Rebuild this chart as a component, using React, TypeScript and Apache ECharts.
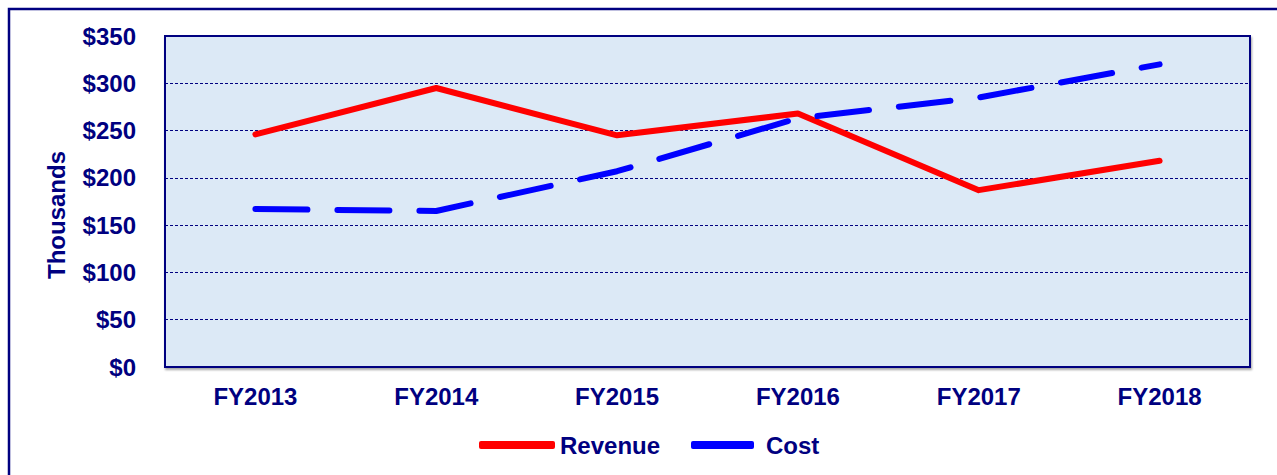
import React, { useEffect, useRef } from "react";
import * as echarts from "echarts";

const categories = ["FY2013", "FY2014", "FY2015", "FY2016", "FY2017", "FY2018"];
const revenue = [246, 295, 245, 268, 187, 218];
const cost = [167, 165, 207, 263, 285, 320];
const yTicks = [0, 50, 100, 150, 200, 250, 300, 350];
const yAxisTitle = "Thousands";

const NAVY = "#000080";
const FONT = "'Liberation Sans', Arial, sans-serif";

export default function App() {
  const ref = useRef<HTMLDivElement>(null);
  useEffect(() => {
    document.body.style.margin = "0";
    const chart = echarts.init(ref.current!, null, { renderer: "svg" });
    chart.setOption({
      animation: false,
      backgroundColor: "#ffffff",
      graphic: [
        {
          type: "rect",
          shape: { x: 9, y: 9, width: 1290, height: 500 },
          style: { fill: "none", stroke: NAVY, lineWidth: 2.5 },
          silent: true,
          z: -1,
        },
        {
          type: "text",
          x: 56,
          y: 215,
          rotation: Math.PI / 2,
          style: {
            text: yAxisTitle,
            fill: NAVY,
            font: "bold 24px " + FONT,
            align: "center",
            verticalAlign: "middle",
          },
          silent: true,
        },
      ],
      grid: {
        left: 165,
        top: 36,
        right: 27,
        bottom: 108,
        show: true,
        backgroundColor: "#dce9f6",
        borderColor: NAVY,
        borderWidth: 2,
        shadowColor: "rgba(0,0,0,0.35)",
        shadowOffsetX: 1,
        shadowOffsetY: 2,
        shadowBlur: 2,
      },
      legend: [
        {
          data: ["Revenue"],
          left: 474,
          top: 428,
          itemWidth: 76,
          itemHeight: 8,
          icon: "roundRect",
          itemGap: 5,
          textStyle: { color: NAVY, fontWeight: "bold", fontSize: 24, fontFamily: FONT },
        },
        {
          data: ["Cost"],
          left: 686,
          top: 428,
          itemWidth: 63,
          itemHeight: 8,
          icon: "roundRect",
          textStyle: {
            color: NAVY,
            fontWeight: "bold",
            fontSize: 24,
            fontFamily: FONT,
            padding: [0, 0, 0, 7],
          },
        },
      ],
      xAxis: {
        type: "category",
        data: categories,
        boundaryGap: true,
        axisLine: { show: false },
        axisTick: { show: false },
        splitLine: { show: false },
        axisLabel: {
          color: NAVY,
          fontWeight: "bold",
          fontSize: 24,
          fontFamily: FONT,
          margin: 17,
        },
      },
      yAxis: {
        type: "value",
        min: yTicks[0],
        max: yTicks[yTicks.length - 1],
        interval: 50,
        axisLine: { show: false },
        axisTick: { show: false },
        axisLabel: {
          color: NAVY,
          fontWeight: "bold",
          fontSize: 24,
          fontFamily: FONT,
          margin: 29,
          formatter: (v: number) => "$" + v,
        },
        splitLine: { lineStyle: { color: NAVY, width: 1, type: [3, 2] } },
      },
      series: [
        {
          name: "Revenue",
          type: "line",
          data: revenue,
          symbol: "none",
          color: "#ff0000",
          lineStyle: { color: "#ff0000", width: 6, cap: "round", join: "round" },
        },
        {
          name: "Cost",
          type: "line",
          data: cost,
          symbol: "none",
          color: "#0000ff",
          lineStyle: { color: "#0000ff", width: 6, cap: "round", join: "round", type: [52, 30] },
        },
      ],
    });
    return () => chart.dispose();
  }, []);
  return <div ref={ref} style={{ width: 1277, height: 475 }} />;
}
